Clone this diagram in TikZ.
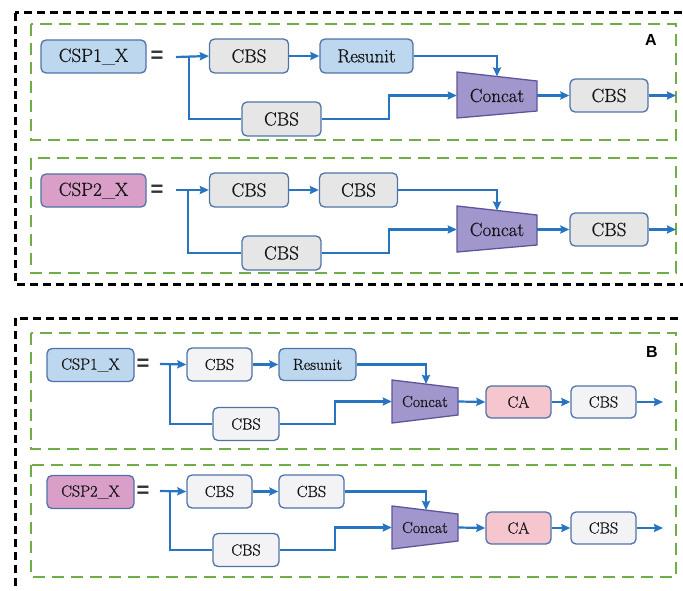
\documentclass[tikz,border=0pt]{standalone}
\usepackage{fontspec}
\newfontfamily\lsans{Liberation Sans}
\newfontfamily\lmr[FakeBold=0.7]{Latin Modern Roman}
\usetikzlibrary{arrows.meta,calc}
\definecolor{arrowblue}{HTML}{2775C0}
\definecolor{boxborder}{HTML}{4F73A8}
\definecolor{cspblue}{HTML}{BDD7EE}
\definecolor{csppink}{HTML}{D99FC9}
\definecolor{cbsgreyA}{HTML}{E6E6E6}
\definecolor{cbsgreyB}{HTML}{F3F3F5}
\definecolor{concatfill}{HTML}{A297CD}
\definecolor{concatborder}{HTML}{5E549C}
\definecolor{capink}{HTML}{F5C6CD}
\definecolor{dgreen}{HTML}{70AD47}
\tikzset{
  blk/.style={draw=boxborder, line width=1.3pt, rounded corners=5pt, inner sep=0pt, text=black!92},
  fA/.style={font=\lmr\fontsize{19}{23}\selectfont},
  fB/.style={font=\lmr\fontsize{16}{19}\selectfont},
  eqsign/.style={font=\lsans\bfseries\fontsize{22}{24}\selectfont, text=black!80, inner sep=0pt},
  conn/.style={draw=arrowblue, line width=2.2pt},
  arr/.style={conn, -{Stealth[length=9pt,width=8pt,inset=1pt]}},
  gbox/.style={draw=dgreen, line width=2pt, dash pattern=on 12pt off 7pt},
  kbox/.style={draw=black, line width=3pt, dash pattern=on 8pt off 5pt},
  conc/.style={fill=concatfill, draw=concatborder, line width=1.3pt},
  lab/.style={font=\lsans\bfseries\fontsize{16}{18}\selectfont, inner sep=0pt}
}
\begin{document}
\begin{tikzpicture}[x=1pt,y=-1pt]
\useasboundingbox (0,0) rectangle (683,591);
% outer boxes
\draw[kbox] (15,13) rectangle (695,284);
\draw[kbox] (15,318) rectangle (695,600);
\draw[gbox] (31,24) rectangle (676,140);
\draw[gbox] (31,158) rectangle (676,273);
\draw[gbox] (31,333) rectangle (676,449);
\draw[gbox] (31,465) rectangle (676,577);
\node[lab] (labA) at (651,40) {A};
\node[lab] (labB) at (652,352) {B};

% ================= Panel A, row 1 =================
\node[blk, fA, fill=cspblue, minimum width=105pt, minimum height=33pt] (a1csp) at (93.5,56.5) {CSP1\_X};
\node[eqsign] (a1eq) at (157,57) {=};
\coordinate (a1s) at (176,57);
\coordinate (a1br) at (189,57);
\node[blk, fA, fill=cbsgreyA, minimum width=79pt, minimum height=34pt] (a1c1) at (249,56) {CBS};
\node[blk, fA, fill=cspblue, minimum width=93pt, minimum height=34pt] (a1r) at (366.5,56) {Resunit};
\node[blk, fA, fill=cbsgreyA, minimum width=79pt, minimum height=34pt] (a1c2) at (281.5,119) {CBS};
\fill[conc] (457,72) -- (537,81) -- (537,111) -- (457,118) -- cycle;
\node[fA, inner sep=0pt, minimum width=80pt, minimum height=46pt, text=black!92] (a1cat) at (497,95.5) {Concat};
\coordinate (a1top) at (497,76.5);
\node[blk, fA, fill=cbsgreyA, minimum width=78pt, minimum height=33pt] (a1o) at (609,95.5) {CBS};
\coordinate (a1end) at (676,95.5);
\draw[arr] (a1s) -- (a1c1.west);
\draw[conn] (a1br) |- (a1c2.west);
\draw[arr] (a1c1) -- (a1r);
\draw[arr] (a1r.east) -| (a1top);
\draw[arr] (a1c2.east) -- (389,119) -- (389,95.5) -- (a1cat.west);
\draw[arr] (a1cat.east) -- (a1o.west);
\draw[arr] (a1o.east) -- (a1end);

% ================= Panel A, row 2 =================
\node[blk, fA, fill=csppink, minimum width=105pt, minimum height=33pt] (a2csp) at (93.5,190.5) {CSP2\_X};
\node[eqsign] (a2eq) at (157,191) {=};
\coordinate (a2s) at (176,190);
\coordinate (a2br) at (188,190);
\node[blk, fA, fill=cbsgreyA, minimum width=79pt, minimum height=34pt] (a2c1) at (249,190) {CBS};
\node[blk, fA, fill=cbsgreyA, minimum width=78pt, minimum height=34pt] (a2c3) at (358.5,190) {CBS};
\node[blk, fA, fill=cbsgreyA, minimum width=79pt, minimum height=34pt] (a2c2) at (281.5,253) {CBS};
\fill[conc] (457,206) -- (537,215) -- (537,245) -- (457,252) -- cycle;
\node[fA, inner sep=0pt, minimum width=80pt, minimum height=46pt, text=black!92] (a2cat) at (497,229.5) {Concat};
\coordinate (a2top) at (497,210.5);
\node[blk, fA, fill=cbsgreyA, minimum width=78pt, minimum height=33pt] (a2o) at (609,229.5) {CBS};
\coordinate (a2end) at (676,229.5);
\draw[arr] (a2s) -- (a2c1.west);
\draw[conn] (a2br) |- (a2c2.west);
\draw[arr] (a2c1) -- (a2c3);
\draw[arr] (a2c3.east) -| (a2top);
\draw[arr] (a2c2.east) -- (389,253) -- (389,229.5) -- (a2cat.west);
\draw[arr] (a2cat.east) -- (a2o.west);
\draw[arr] (a2o.east) -- (a2end);

% ================= Panel B, row 1 =================
\node[blk, fB, fill=cspblue, minimum width=87pt, minimum height=33pt] (b1csp) at (90.5,365) {CSP1\_X};
\node[eqsign] (b1eq) at (143,365) {=};
\coordinate (b1s) at (160,364);
\coordinate (b1br) at (170,364);
\node[blk, fB, fill=cbsgreyB, minimum width=65pt, minimum height=33pt] (b1c1) at (219.5,364.5) {CBS};
\node[blk, fB, fill=cspblue, minimum width=77pt, minimum height=32pt] (b1r) at (317.5,364.5) {Resunit};
\node[blk, fB, fill=cbsgreyB, minimum width=66pt, minimum height=33pt] (b1c2) at (246,424) {CBS};
\fill[conc] (392,380) -- (458,388) -- (458,415) -- (392,423) -- cycle;
\node[fB, inner sep=0pt, minimum width=66pt, minimum height=43pt, text=black!92] (b1cat) at (425,401.5) {Concat};
\coordinate (b1top) at (426,384);
\node[blk, fB, fill=capink, minimum width=65pt, minimum height=32pt] (b1ca) at (518.5,402) {CA};
\node[blk, fB, fill=cbsgreyB, minimum width=65pt, minimum height=32pt] (b1o) at (603.5,402) {CBS};
\coordinate (b1end) at (663,402);
\draw[arr] (b1s) -- (b1c1.west);
\draw[conn] (b1br) |- (b1c2.west);
\draw[arr] (b1c1) -- (b1r);
\draw[arr] (b1r.east) -| (b1top);
\draw[arr] (b1c2.east) -- (335,424) -- (335,401.5) -- (b1cat.west);
\draw[arr] (b1cat.east) -- (b1ca.west);
\draw[arr] (b1ca) -- (b1o);
\draw[arr] (b1o.east) -- (b1end);

% ================= Panel B, row 2 =================
\node[blk, fB, fill=csppink, minimum width=87pt, minimum height=33pt] (b2csp) at (90.5,492) {CSP2\_X};
\node[eqsign] (b2eq) at (143,492) {=};
\coordinate (b2s) at (160,491);
\coordinate (b2br) at (170,491);
\node[blk, fB, fill=cbsgreyB, minimum width=65pt, minimum height=33pt] (b2c1) at (219.5,491.5) {CBS};
\node[blk, fB, fill=cbsgreyB, minimum width=65pt, minimum height=33pt] (b2c3) at (311.5,491.5) {CBS};
\node[blk, fB, fill=cbsgreyB, minimum width=66pt, minimum height=33pt] (b2c2) at (246,550) {CBS};
\fill[conc] (392,506) -- (458,514) -- (458,541) -- (392,549) -- cycle;
\node[fB, inner sep=0pt, minimum width=66pt, minimum height=43pt, text=black!92] (b2cat) at (425,527.5) {Concat};
\coordinate (b2top) at (426,510);
\node[blk, fB, fill=capink, minimum width=65pt, minimum height=32pt] (b2ca) at (518.5,528) {CA};
\node[blk, fB, fill=cbsgreyB, minimum width=65pt, minimum height=32pt] (b2o) at (603.5,528) {CBS};
\coordinate (b2end) at (663,528);
\draw[arr] (b2s) -- (b2c1.west);
\draw[conn] (b2br) |- (b2c2.west);
\draw[arr] (b2c1) -- (b2c3);
\draw[arr] (b2c3.east) -| (b2top);
\draw[arr] (b2c2.east) -- (335,550) -- (335,527.5) -- (b2cat.west);
\draw[arr] (b2cat.east) -- (b2ca.west);
\draw[arr] (b2ca) -- (b2o);
\draw[arr] (b2o.east) -- (b2end);
\end{tikzpicture}
\end{document}
